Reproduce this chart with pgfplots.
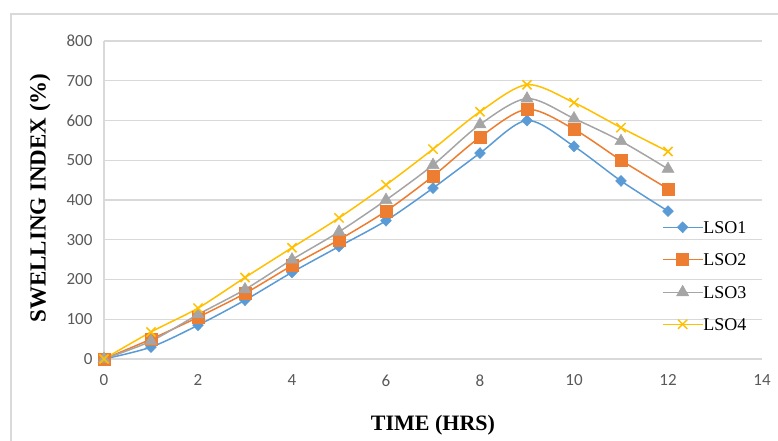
\documentclass[border=0pt]{standalone}
\usepackage{fontspec}
\setmainfont{Liberation Serif}
\newfontfamily\tickfont{Carlito}
\usepackage{pgfplots}
\pgfplotsset{compat=1.18}
\definecolor{gridgray}{HTML}{D9D9D9}
\definecolor{ticktext}{HTML}{595959}
\definecolor{cA}{HTML}{5B9BD5}
\definecolor{cB}{HTML}{ED7D31}
\definecolor{cC}{HTML}{A5A5A5}
\definecolor{cD}{HTML}{FFC000}
\begin{document}
\begin{tikzpicture}[x=1pt,y=1pt]
\useasboundingbox (0,0) rectangle (778,441);
\draw[gridgray, line width=1.5pt] (11,-10) |- (800,427);
\begin{axis}[
  at={(104pt,82pt)}, anchor=south west,
  scale only axis, width=658pt, height=318pt,
  xmin=0, xmax=14, ymin=0, ymax=800,
  xtick={0,2,...,14}, ytick={0,100,...,800},
  major tick length=0pt,
  axis x line*=bottom, axis y line*=left,
  axis line style={draw=gridgray, line width=1.4pt, -},
  ymajorgrids, grid style={draw=gridgray, line width=1.4pt},
  tick label style={font=\tickfont\fontsize{17}{17}\selectfont, text=ticktext},
  /pgf/number format/assume math mode=true,
  xticklabel style={yshift=-12pt},
  yticklabel style={xshift=-8pt},
  clip=false,
  legend style={draw=none, fill=none, at={(rel axis cs:0.843,0.44)}, anchor=north west,
    font=\fontsize{18}{18}\selectfont, row sep=20pt,
    nodes={inner sep=0pt, text height=12pt, text depth=0pt}},
  legend cell align=left,
  legend image code/.code={\draw[mark repeat=2,mark phase=2] plot coordinates {(0pt,0pt) (20pt,0pt) (40pt,0pt)};},
  every axis plot/.append style={line width=1.5pt, smooth, tension=0.5},
]
\addplot[cA, mark=diamond*, mark size=5.5pt, mark options={solid, fill=cA, line width=0.5pt, xscale=1.3}] coordinates {
(0,0) (1,30) (2,85) (3,148) (4,218) (5,283) (6,348) (7,430) (8,518) (9,600) (10,535) (11,448) (12,372)};
\addlegendentry{LSO1}
\addplot[cB, mark=square*, mark size=6pt, mark options={solid, fill=cB, line width=0.5pt}] coordinates {
(0,0) (1,50) (2,105) (3,165) (4,235) (5,300) (6,372) (7,460) (8,558) (9,628) (10,578) (11,500) (12,428)};
\addlegendentry{LSO2}
\addplot[cC, mark=triangle*, mark size=7pt, mark options={solid, fill=cC, line width=0.5pt}] coordinates {
(0,0) (1,45) (2,112) (3,175) (4,250) (5,320) (6,400) (7,488) (8,590) (9,655) (10,605) (11,548) (12,478)};
\addlegendentry{LSO3}
\addplot[cD, mark=x, mark size=6.5pt, mark options={solid, line width=1.5pt}] coordinates {
(0,0) (1,68) (2,128) (3,205) (4,280) (5,355) (6,438) (7,528) (8,622) (9,690) (10,645) (11,582) (12,522)};
\addlegendentry{LSO4}
\end{axis}
\node[font=\bfseries\fontsize{23}{23}\selectfont, rotate=90] at (40,243) {SWELLING INDEX (\%)};
\node[font=\bfseries\fontsize{22}{22}\selectfont] at (433,16) {TIME (HRS)};
\end{tikzpicture}
\end{document}
